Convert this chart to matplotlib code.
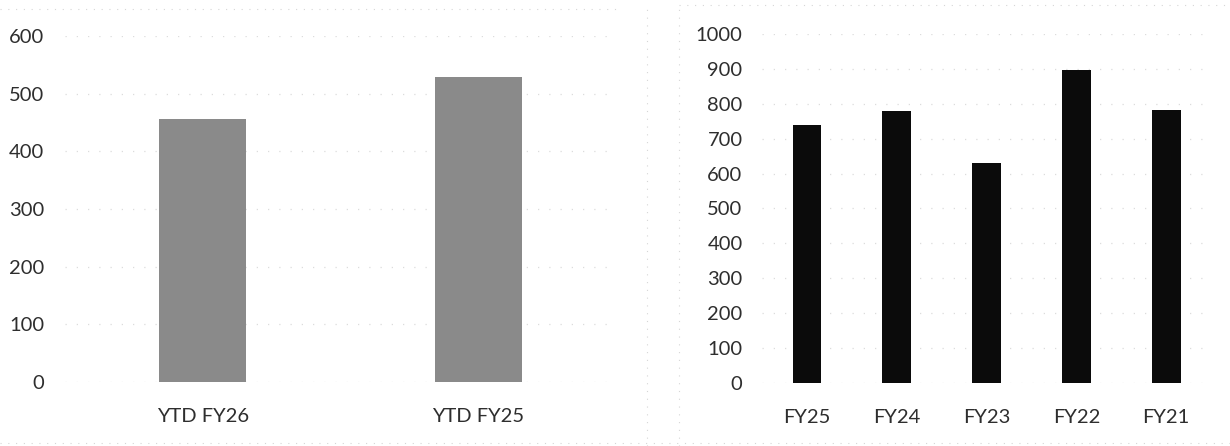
import matplotlib.pyplot as plt
from matplotlib.lines import Line2D

# YTD comparison (left) and full-year history (right)
ytd_labels = ['YTD FY26', 'YTD FY25']
ytd_values = [456, 529]

fy_labels = ['FY25', 'FY24', 'FY23', 'FY22', 'FY21']
fy_values = [738, 779, 630, 896, 783]

plt.rcParams['font.family'] = ['Lato', 'DejaVu Sans']
text_color = '#2e2e2e'
grid_color = '#dcdcdc'

fig = plt.figure(figsize=(12.3, 4.46), dpi=100)
fig.patch.set_facecolor('white')

ax1 = fig.add_axes([0.0528, 0.1435, 0.448, 0.776])
ax2 = fig.add_axes([0.6195, 0.1413, 0.3651, 0.7825])


def style_axis(ax, ymax, step, ypad):
    ax.set_ylim(0, ymax)
    ax.set_yticks(range(0, ymax + 1, step))
    ax.yaxis.grid(True, color=grid_color, linestyle=(0, (1, 8)), linewidth=0.9)
    ax.set_axisbelow(True)
    for s in ax.spines.values():
        s.set_visible(False)
    ax.tick_params(axis='both', length=0, labelsize=14.5, colors=text_color)
    ax.tick_params(axis='y', pad=ypad)
    ax.tick_params(axis='x', pad=19)


ax1.bar(range(len(ytd_values)), ytd_values, width=0.315, color='#8a8a8a', zorder=2)
ax1.set_xlim(-0.5, len(ytd_values) - 0.5)
ax1.set_xticks(range(len(ytd_labels)))
ax1.set_xticklabels(ytd_labels)
style_axis(ax1, 600, 100, 15)

ax2.bar(range(len(fy_values)), fy_values, width=0.32, color='#0b0b0b', zorder=2)
ax2.set_xlim(-0.5, len(fy_values) - 0.5)
ax2.set_xticks(range(len(fy_labels)))
ax2.set_xticklabels(fy_labels)
style_axis(ax2, 1000, 100, 14)

# faint chart-area borders
W, H = 1230, 446
border = dict(color='#d6d6d6', linestyle=(0, (1, 6)), linewidth=0.8, transform=fig.transFigure)
fig.add_artist(Line2D([0, 620 / W], [1 - 9 / H, 1 - 9 / H], **border))
fig.add_artist(Line2D([679 / W, 1], [1 - 5 / H, 1 - 5 / H], **border))
fig.add_artist(Line2D([647 / W, 647 / W], [0, 1 - 9 / H], **border))
fig.add_artist(Line2D([679 / W, 679 / W], [0, 1 - 5 / H], **border))
fig.add_artist(Line2D([0, 1], [1 - 443 / H, 1 - 443 / H], **border))

fig.savefig('out.png', dpi=100)
